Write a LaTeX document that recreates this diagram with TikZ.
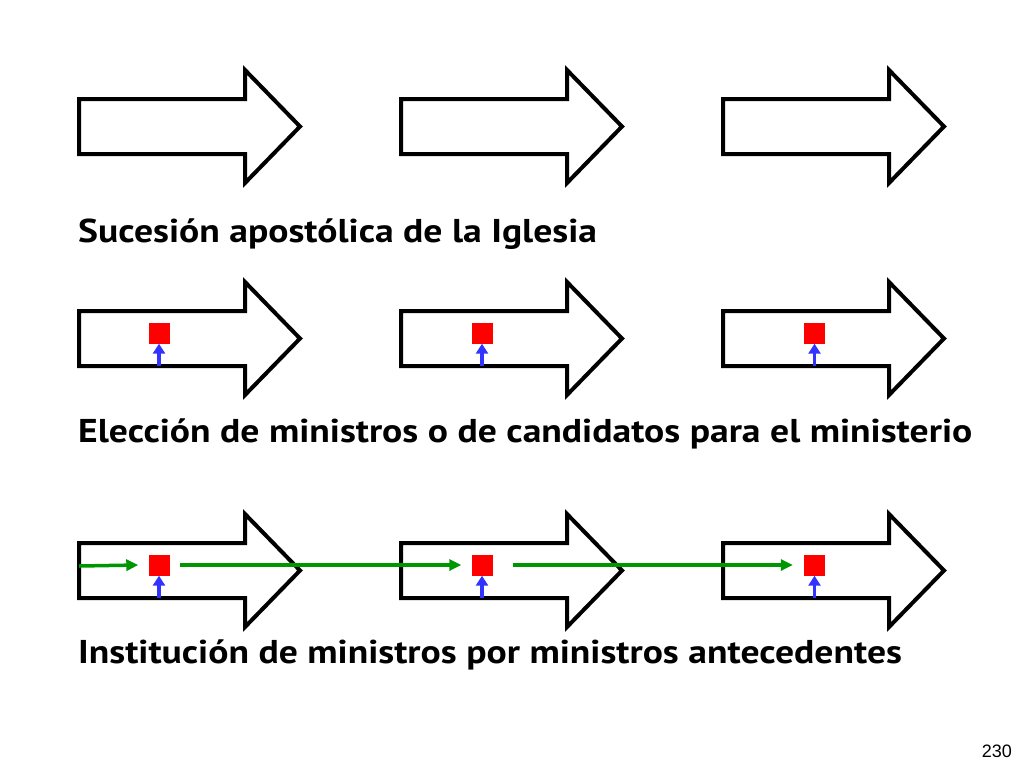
\documentclass[tikz,border=0pt]{standalone}
\usepackage{fontspec}
\setmainfont{PT Sans}[FakeStretch=1.14]
\newfontfamily\numfont{Liberation Sans}
\usetikzlibrary{arrows.meta}
\definecolor{sqred}{RGB}{255,0,0}
\definecolor{upblue}{RGB}{51,51,255}
\definecolor{lineg}{RGB}{0,150,0}
\tikzset{
  bigarrow/.style={draw=black, line width=4pt, fill=white, line join=miter, miter limit=10},
  sq/.style={fill=sqred, draw=none, minimum width=21pt, minimum height=21pt, inner sep=0pt},
  uparrow/.style={draw=upblue, line width=3.5pt, -{Triangle[length=10pt,width=12pt]}},
  garrow/.style={draw=lineg, line width=3.5pt, -{Triangle[length=12pt,width=11pt]}},
  gline/.style={draw=lineg, line width=3.5pt},
  caption/.style={anchor=base west, inner sep=0pt, font=\fontsize{33}{40}\selectfont\bfseries}
}
\begin{document}
\begin{tikzpicture}[x=1pt,y=-1pt]
\useasboundingbox (0,0) rectangle (1024,768);
% big arrows: left L, centre C
\foreach \C in {126.5,338.5,570.5}{
  \foreach \L in {79,401,723}{
    \draw[bigarrow] (\L,\C-27.5) -- (\L+166,\C-27.5) -- (\L+166,\C-56.5) -- (\L+221,\C)
      -- (\L+166,\C+56.5) -- (\L+166,\C+27.5) -- (\L,\C+27.5) -- cycle;
  }
}
% row 2 squares
\node[sq] (s21) at (159,333) {};
\node[sq] (s22) at (482,333) {};
\node[sq] (s23) at (814.5,333) {};
\coordinate (b21) at (159,366);
\coordinate (b22) at (482,366);
\coordinate (b23) at (814.5,366);
\draw[uparrow] (b21) -- (s21.south);
\draw[uparrow] (b22) -- (s22.south);
\draw[uparrow] (b23) -- (s23.south);
% row 3 squares
\node[sq] (s31) at (159,565) {};
\node[sq] (s32) at (482,565) {};
\node[sq] (s33) at (814.5,565) {};
\coordinate (b31) at (159,598);
\coordinate (b32) at (482,598);
\coordinate (b33) at (814.5,598);
\draw[uparrow] (b31) -- (s31.south);
\draw[uparrow] (b32) -- (s32.south);
\draw[uparrow] (b33) -- (s33.south);
% green chain
\coordinate (g0) at (79,566);
\draw[garrow] (g0) -- ([xshift=-10pt]s31.west);
\draw[garrow] ([xshift=10pt]s31.east) -- ([xshift=-10pt]s32.west);
\draw[garrow] ([xshift=20pt]s32.east) -- ([xshift=-11pt]s33.west);
% captions
\node[caption] (t1) at (78,242) {Sucesión apostólica de la Iglesia};
\node[caption] (t2) at (78,442) {Elección de ministros o de candidatos para el ministerio};
\node[caption] (t3) at (78,663) {Institución de ministros por ministros antecedentes};
\node[anchor=base east, inner sep=0pt, font=\numfont\fontsize{18}{20}\selectfont] (pg) at (1012,757) {230};
\end{tikzpicture}
\end{document}
